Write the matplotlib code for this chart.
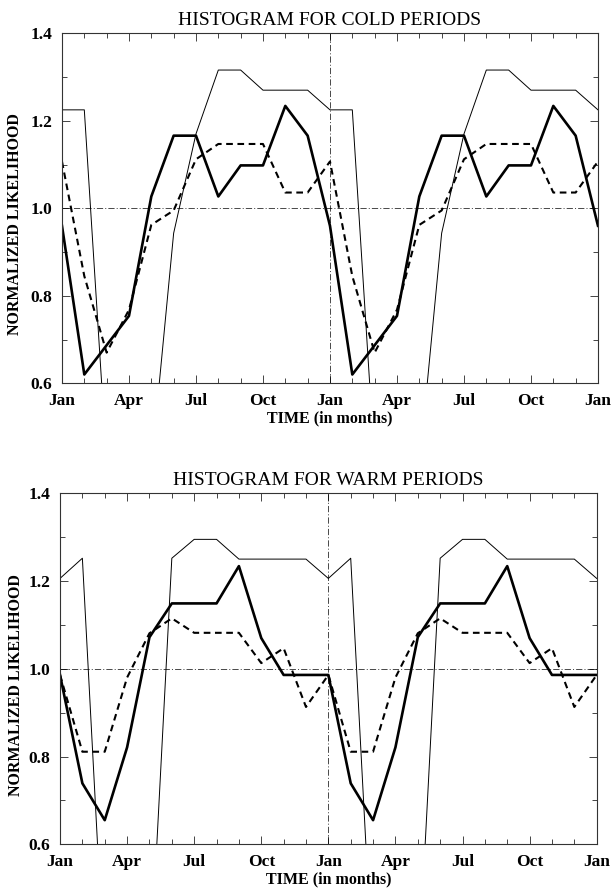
import numpy as np
import matplotlib
matplotlib.use('Agg')
import matplotlib.pyplot as plt
from matplotlib import rcParams
from matplotlib.ticker import MultipleLocator

rcParams['font.family'] = ['Liberation Serif', 'DejaVu Serif']

# monthly values, Jan..Dec (the plot repeats the year twice)
cold_thin = [1.225, 1.225, 0.42, 0.40, 0.41, 0.943, 1.17, 1.316, 1.316, 1.27, 1.27, 1.27]
cold_thick = [0.96, 0.62, 0.687, 0.754, 1.027, 1.166, 1.166, 1.027, 1.098, 1.098, 1.234, 1.166]
cold_dash = [1.107, 0.845, 0.67, 0.768, 0.962, 0.995, 1.112, 1.147, 1.147, 1.147, 1.036, 1.036]

warm_thin = [1.206, 1.252, 0.29, 0.30, 0.28, 1.252, 1.295, 1.295, 1.25, 1.25, 1.25, 1.25]
warm_thick = [0.986, 0.739, 0.655, 0.821, 1.072, 1.149, 1.149, 1.149, 1.234, 1.07, 0.986, 0.986]
warm_dash = [0.986, 0.811, 0.811, 0.98, 1.081, 1.115, 1.082, 1.082, 1.082, 1.013, 1.047, 0.913]

month_labels = ['Jan', 'Apr', 'Jul', 'Oct', 'Jan', 'Apr', 'Jul', 'Oct', 'Jan']
titles = ['HISTOGRAM FOR COLD PERIODS', 'HISTOGRAM FOR WARM PERIODS']

months = np.arange(25)


def two_years(vals):
    # two full years plus the closing January
    return np.array(list(vals) * 2 + [vals[0]])


def draw_panel(ax, thin, thick, dash, title, ylab_x):
    ax.plot(months, two_years(thin), c='k', lw=0.7)
    ax.plot(months, two_years(thick), c='k', lw=1.9)
    ax.plot(months, two_years(dash), c='k', lw=1.5, ls=(0, (3.2, 2.2)))

    dd = (0, (9, 3, 1.5, 3))
    ax.axhline(1.0, c='k', lw=0.5, ls=dd)
    ax.axvline(12, c='k', lw=0.5, ls=dd)

    ax.set_xlim(0, 24)
    ax.set_ylim(0.6, 1.4)
    ax.xaxis.set_minor_locator(MultipleLocator(1))
    ax.yaxis.set_minor_locator(MultipleLocator(0.1))
    ax.set_xticks(np.arange(0, 25, 3))
    ax.set_xticklabels(month_labels)
    ax.set_yticks([0.6, 0.8, 1.0, 1.2, 1.4])
    ax.set_yticklabels(['0.6', '0.8', '1.0', '1.2', '1.4'])

    ax.tick_params(which='both', direction='in', top=True, right=True,
                   width=0.7, color='#444444')
    ax.tick_params(which='major', length=6, pad=7)
    ax.tick_params(which='minor', length=3.5)
    for lab in ax.get_xticklabels() + ax.get_yticklabels():
        lab.set_fontsize(12.5)
        lab.set_fontweight('bold')
    for sp in ax.spines.values():
        sp.set_linewidth(0.8)
        sp.set_color('#333333')

    ax.set_title(title, fontsize=14, pad=6)
    ax.set_xlabel('TIME (in months)', fontsize=11.5, fontweight='bold', labelpad=1)
    ax.set_ylabel('NORMALIZED LIKELIHOOD', fontsize=11.5, fontweight='bold')
    ax.yaxis.set_label_coords(ylab_x, 0.455)


fig = plt.figure(figsize=(6.13, 8.88), dpi=100)
ax1 = fig.add_axes([0.1011, 0.5684, 0.8744, 0.3941])
ax2 = fig.add_axes([0.0979, 0.0492, 0.8755, 0.3953])

draw_panel(ax1, cold_thin, cold_thick, cold_dash, titles[0], -0.072)
draw_panel(ax2, warm_thin, warm_thick, warm_dash, titles[1], -0.068)

fig.savefig('out.png', dpi=100)
